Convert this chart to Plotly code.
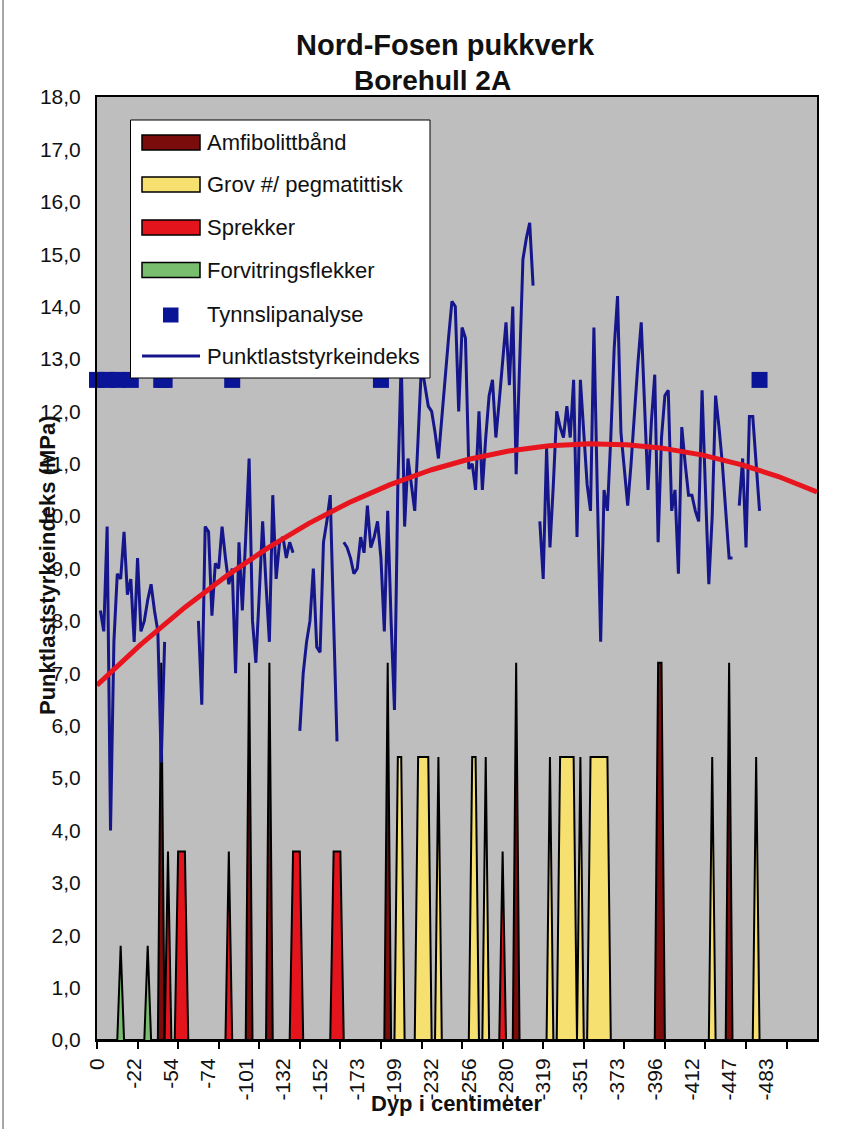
import numpy as np
import plotly.graph_objects as go

# ---------------- data ----------------
title_lines = ["Nord-Fosen pukkverk", "Borehull 2A"]
y_title = "Punktlaststyrkeindeks (MPa)"
x_title = "Dyp i centimeter"

n_samples = 214
depth_labels = ["0", "-22", "-54", "-74", "-101", "-132", "-152", "-173", "-199", "-232",
                "-256", "-280", "-319", "-351", "-373", "-396", "-412", "-447", "-483"]
label_every = 11
tick_every = 12

# Punktlaststyrkeindeks per sample (None = no measurement)
punktlast = [
    None, 8.2, 7.8, 9.8, 4.0, 7.6, 8.9, 8.8, 9.7, 8.5,
    8.8, 7.6, 9.2, 7.8, 8.0, 8.4, 8.7, 8.2, 7.8, 5.3,
    7.6, None, None, None, None, None, None, None, None, None,
    8.0, 6.4, 9.8, 9.7, 8.1, 9.1, 9.0, 9.8, 9.2, 8.7,
    9.0, 7.0, 9.5, 8.2, 9.6, 11.1, 8.0, 7.2, 8.5, 9.9,
    8.7, 7.6, 10.4, 8.8, 9.5, 9.6, 9.2, 9.5, 9.3, None,
    5.9, 7.0, 7.6, 8.0, 9.0, 7.5, 7.4, 9.5, 9.9, 10.4,
    8.0, 5.7, None, 9.5, 9.4, 9.2, 8.9, 9.0, 9.6, 9.3,
    10.2, 9.4, 9.6, 9.9, 9.2, 7.8, 10.1, 8.0, 6.3, 10.6,
    13.0, 9.8, 11.1, 10.6, 10.1, 11.5, 12.9, 12.5, 12.1, 12.0,
    11.6, 11.1, 11.9, 12.6, 13.4, 14.1, 14.0, 12.0, 13.6, 13.4,
    10.9, 11.0, 10.5, 12.0, 10.5, 11.5, 12.3, 12.6, 11.5, 12.2,
    13.0, 13.7, 12.5, 14.0, 10.8, 12.9, 14.9, 15.3, 15.6, 14.4,
    None, 9.9, 8.8, 11.3, 9.4, 10.6, 12.0, 11.7, 11.5, 12.1,
    11.5, 12.6, 9.6, 12.6, 11.5, 10.6, 10.1, 13.6, 10.5, 7.6,
    10.5, 10.1, 11.5, 13.2, 14.2, 11.6, 10.9, 10.2, 11.0, 12.0,
    12.9, 13.7, 12.0, 10.5, 11.8, 12.7, 9.5, 11.5, 12.3, 12.4,
    10.1, 10.5, 8.9, 11.7, 11.0, 10.4, 10.4, 10.1, 9.9, 12.4,
    10.5, 8.7, 10.0, 12.3, 11.7, 11.0, 10.1, 9.2, 9.2, None,
    10.2, 11.1, 9.4, 11.9, 11.9, 11.0, 10.1, None, None, None,
    None, None, None, None, None, None, None, None, None, None,
    None, None, None, None,
]

tynnslip_samples = [0, 3, 6, 10, 19, 20, 40, 84, 196]
tynnslip_value = 12.6

amfibolitt_samples = [19, 45, 51, 86, 124, 166, 167, 187]
amfibolitt_value = 7.2
grov_samples = [89, 90, 95, 96, 97, 98, 101, 111, 112, 115, 134, 137, 138, 139, 140, 141,
                143, 146, 147, 148, 149, 150, 151, 182, 195]
grov_value = 5.4
sprekker_samples = [21, 24, 25, 26, 39, 58, 59, 60, 70, 71, 72, 120]
sprekker_value = 3.6
forvitring_samples = [7, 15]
forvitring_value = 1.8

# ---------------- styling ----------------
FONT = "Arial, Liberation Sans, sans-serif"
NARROW = "Liberation Sans Narrow, Arial Narrow, Liberation Sans, Arial, sans-serif"
C_AMF = "#7A0C0C"
C_GROV = "#F5E070"
C_SPR = "#E3141C"
C_FOR = "#78BE6E"
C_BLUE = "#16168C"
C_SQ = "#0A1496"
C_TREND = "#E8141E"

L, R, T, B = 97, 817, 97, 1040


def px(x):
    return (x - L) / (R - L)


def py(y):
    return (B - y) / (B - T)


samples = list(range(n_samples))


def band(idx, level):
    s = set(idx)
    return [level if i in s else 0 for i in samples]


fig = go.Figure()

for name, idx, lvl, col in [
    ("Amfibolittbånd", amfibolitt_samples, amfibolitt_value, C_AMF),
    ("Grov #/ pegmatittisk", grov_samples, grov_value, C_GROV),
    ("Sprekker", sprekker_samples, sprekker_value, C_SPR),
    ("Forvitringsflekker", forvitring_samples, forvitring_value, C_FOR),
]:
    fig.add_trace(go.Scatter(
        x=samples, y=band(idx, lvl), name=name, mode="lines",
        line=dict(color="black", width=2), fill="tozeroy", fillcolor=col,
        showlegend=False, hoverinfo="skip"))

fig.add_trace(go.Scatter(
    x=samples, y=punktlast, name="Punktlaststyrkeindeks", mode="lines",
    line=dict(color=C_BLUE, width=3), connectgaps=False, showlegend=False))

# polynomial (2nd order) trend line of the point-load index
xs = np.array([i for i, v in zip(samples, punktlast) if v is not None], dtype=float)
ys = np.array([v for v in punktlast if v is not None], dtype=float)
coef = np.polyfit(xs, ys, 2)
xt = np.linspace(0, n_samples - 1, 300)
fig.add_trace(go.Scatter(
    x=xt, y=np.polyval(coef, xt), mode="lines", xaxis="x2", yaxis="y",
    line=dict(color=C_TREND, width=5), showlegend=False, hoverinfo="skip"))

fig.add_trace(go.Scatter(
    x=tynnslip_samples, y=[tynnslip_value] * len(tynnslip_samples), name="Tynnslipanalyse",
    mode="markers", marker=dict(symbol="square", size=16, color=C_SQ, line=dict(width=0)),
    cliponaxis=False, showlegend=False))

xrange_ = [0, n_samples - 1]
fig.update_layout(
    width=844, height=1129,
    margin=dict(l=L, r=844 - R, t=T, b=1129 - B),
    paper_bgcolor="white", plot_bgcolor="#BEBEBE",
    separators=", ",
    showlegend=False,
    xaxis=dict(range=xrange_, tickmode="array",
               tickvals=[k * label_every for k in range(len(depth_labels))],
               ticktext=depth_labels, tickangle=-90, ticks="outside", ticklen=8,
               tickcolor="rgba(0,0,0,0)", showline=True, linecolor="black", linewidth=2,
               mirror=True, showgrid=False, zeroline=False,
               tickfont=dict(family=FONT, size=21, color="#111")),
    xaxis2=dict(overlaying="x", range=xrange_, tickmode="array",
                tickvals=list(range(0, n_samples, tick_every)), ticks="outside", ticklen=8,
                tickwidth=1.5, tickcolor="black", showticklabels=False, showgrid=False,
                zeroline=False, showline=False, side="bottom", anchor="y"),
    yaxis=dict(range=[0, 18], tickmode="array", tickvals=list(range(0, 19)),
               tickformat=".1f", showline=True, linecolor="black", linewidth=2, mirror=True,
               showgrid=False, zeroline=False, ticks="", ticklabelstandoff=10,
               tickfont=dict(family=FONT, size=21, color="#111")),
)

ann = []
ann.append(dict(text="<b>%s</b>" % title_lines[0], x=px(445), y=py(45), xref="paper", yref="paper",
                showarrow=False, font=dict(family=FONT, size=29, color="#111"),
                xanchor="center", yanchor="middle"))
ann.append(dict(text="<b>%s</b>" % title_lines[1], x=px(432), y=py(80), xref="paper", yref="paper",
                showarrow=False, font=dict(family=FONT, size=28, color="#111"),
                xanchor="center", yanchor="middle"))
ann.append(dict(text="<b>%s</b>" % y_title, x=px(47), y=py(565), xref="paper", yref="paper",
                showarrow=False, textangle=-90, font=dict(family=NARROW, size=22, color="#111"),
                xanchor="center", yanchor="middle"))
ann.append(dict(text="<b>%s</b>" % x_title, x=px(457), y=py(1103), xref="paper", yref="paper",
                showarrow=False, font=dict(family=NARROW, size=22, color="#111"),
                xanchor="center", yanchor="middle"))

# ---- legend (drawn as a box like the original) ----
shapes = []
shapes.append(dict(type="rect", xref="paper", yref="paper", x0=px(130.5), x1=px(430),
                   y0=py(378), y1=py(120), fillcolor="white", line=dict(color="black", width=1),
                   layer="above"))
legend_items = [
    ("Amfibolittbånd", C_AMF, 142.5),
    ("Grov #/ pegmatittisk", C_GROV, 184.5),
    ("Sprekker", C_SPR, 227.5),
    ("Forvitringsflekker", C_FOR, 270),
]
for name, col, yc in legend_items:
    shapes.append(dict(type="rect", xref="paper", yref="paper", x0=px(142), x1=px(200),
                       y0=py(yc + 7.5), y1=py(yc - 7.5), fillcolor=col,
                       line=dict(color="black", width=1.5), layer="above"))
    ann.append(dict(text=name, x=px(205), y=py(yc), xref="paper", yref="paper", showarrow=False,
                    xanchor="left", yanchor="middle", font=dict(family=FONT, size=22, color="#111")))
shapes.append(dict(type="rect", xref="paper", yref="paper", x0=px(163), x1=px(178.5),
                   y0=py(322.5), y1=py(307.5), fillcolor=C_SQ, line=dict(width=0), layer="above"))
ann.append(dict(text="Tynnslipanalyse", x=px(205), y=py(315), xref="paper", yref="paper",
                showarrow=False, xanchor="left", yanchor="middle",
                font=dict(family=FONT, size=22, color="#111")))
shapes.append(dict(type="line", xref="paper", yref="paper", x0=px(142), x1=px(200),
                   y0=py(356), y1=py(356), line=dict(color=C_BLUE, width=3), layer="above"))
ann.append(dict(text="Punktlaststyrkeindeks", x=px(205), y=py(356), xref="paper", yref="paper",
                showarrow=False, xanchor="left", yanchor="middle",
                font=dict(family=FONT, size=22, color="#111")))
# thin frame line at the left edge of the chart area
shapes.append(dict(type="line", xref="paper", yref="paper", x0=px(3), x1=px(3),
                   y0=py(1129), y1=py(0), line=dict(color="#8A8A8A", width=1.5)))

fig.update_layout(annotations=ann, shapes=shapes)
fig.write_html("out.html")
